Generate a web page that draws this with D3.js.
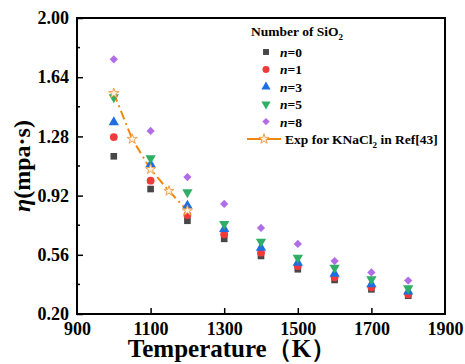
<!DOCTYPE html>
<html>
<head>
<meta charset="utf-8">
<script src="https://cdn.jsdelivr.net/npm/d3@7"></script>
<style>
    body { margin: 0; background: #fff; }
    text { font-family: "Liberation Serif", "Times New Roman", serif; font-weight: bold; }
</style>
</head>
<body>
<div id="chart"></div>
<script>
// data
let temps = [1000, 1100, 1200, 1300, 1400, 1500, 1600, 1700, 1800]
let n0 = [1.159, 0.960, 0.767, 0.657, 0.553, 0.472, 0.407, 0.350, 0.311]
let n1 = [1.276, 1.011, 0.802, 0.685, 0.573, 0.492, 0.423, 0.362, 0.320]
let n3 = [1.366, 1.110, 0.859, 0.717, 0.603, 0.512, 0.445, 0.381, 0.336]
let n5 = [1.518, 1.147, 0.940, 0.748, 0.640, 0.542, 0.482, 0.411, 0.356]
let n8 = [1.749, 1.313, 1.033, 0.869, 0.723, 0.626, 0.522, 0.453, 0.403]
let expTemps = [1000, 1050, 1100, 1150, 1200]
let expVals = [1.542, 1.264, 1.080, 0.948, 0.828]
let xTicks = [900, 1100, 1300, 1500, 1700, 1900]
let yTicks = [0.20, 0.56, 0.92, 1.28, 1.64, 2.00]
let seriesNames = ["n=0", "n=1", "n=3", "n=5", "n=8"]

;(function () {
    let w = 465
    let h = 364
    let left = 77, top = 18, right = 445, bottom = 314

    let svg = d3.select("#chart")
        .append("svg")
        .attr("width", w)
        .attr("height", h)

    let x = d3.scaleLinear().domain([900, 1900]).range([left, right])
    let y = d3.scaleLinear().domain([0.20, 2.00]).range([bottom, top])

    let series = [
        { name: seriesNames[0], vals: n0, color: "#474747", sym: d3.symbolSquare, size: 44, rot: 0 },
        { name: seriesNames[1], vals: n1, color: "#f03a3a", sym: d3.symbolCircle, size: 48, rot: 0 },
        { name: seriesNames[2], vals: n3, color: "#1f6ee0", sym: d3.symbolTriangle, size: 46, rot: 0 },
        { name: seriesNames[3], vals: n5, color: "#2fae66", sym: d3.symbolTriangle, size: 46, rot: 180 },
        { name: seriesNames[4], vals: n8, color: "#b16de6", sym: d3.symbolSquare, size: 34, rot: 45 }
    ]

    // axes, ticks inside
    let xAxis = d3.axisBottom(x).tickValues(xTicks).tickFormat(d3.format("d")).tickSizeInner(-6).tickSizeOuter(0).tickPadding(8)
    let yAxis = d3.axisLeft(y).tickValues(yTicks).tickFormat(d3.format(".2f")).tickSizeInner(-6).tickSizeOuter(0).tickPadding(8)

    let gx = svg.append("g")
        .attr("transform", "translate(0," + bottom + ")")
        .call(xAxis)
    let gy = svg.append("g")
        .attr("transform", "translate(" + left + ",0)")
        .call(yAxis)

    // minor ticks on y
    let minors = d3.range(0.38, 2.0, 0.36)
    gy.selectAll(".minor")
        .data(minors)
        .enter()
        .append("line")
        .attr("x1", 0).attr("x2", 3)
        .attr("y1", d => y(d)).attr("y2", d => y(d))
        .attr("stroke", "#000").attr("stroke-width", 1.5)

    for (let g of [gx, gy]) {
        g.select(".domain").remove()
        g.selectAll(".tick line").attr("stroke", "#000").attr("stroke-width", 1.5)
        g.selectAll(".tick text")
            .attr("fill", "#000")
            .style("font-size", "18px")
            .style("font-family", "Liberation Serif, serif")
            .style("font-weight", "bold")
    }
    gx.selectAll(".tick").filter(d => d == 900 || d == 1900).select("line").remove()

    // frame
    svg.append("rect")
        .attr("x", left).attr("y", top)
        .attr("width", right - left).attr("height", bottom - top)
        .attr("fill", "none").attr("stroke", "#000").attr("stroke-width", 2)

    // experimental line
    let line = d3.line()
        .x(d => x(d[0]))
        .y(d => y(d[1]))
    let expData = d3.zip(expTemps, expVals)
    svg.append("path")
        .datum(expData)
        .attr("d", line)
        .attr("fill", "none")
        .attr("stroke", "#f0880f")
        .attr("stroke-width", 2)
        .attr("stroke-dasharray", "9,4,2,4")

    // scatter series
    for (let s of series) {
        svg.append("g")
            .selectAll("path")
            .data(d3.zip(temps, s.vals))
            .enter()
            .append("path")
            .attr("d", d3.symbol().type(s.sym).size(s.size))
            .attr("transform", d => "translate(" + x(d[0]) + "," + y(d[1]) + ") rotate(" + s.rot + ")")
            .attr("fill", s.color)
    }

    let star = d3.symbol().type(d3.symbolStar).size(32)
    svg.append("g")
        .selectAll("path")
        .data(expData)
        .enter()
        .append("path")
        .attr("d", star)
        .attr("transform", d => "translate(" + x(d[0]) + "," + y(d[1]) + ")")
        .attr("fill", "#fff4e4")
        .attr("stroke", "#f2a04a")
        .attr("stroke-width", 1)

    // legend
    let lg = svg.append("g")
    let title = lg.append("text").attr("x", 251).attr("y", 36).style("font-size", "13.5px")
    title.append("tspan").text("Number of SiO")
    title.append("tspan").text("2").attr("dy", 4).style("font-size", "9px")

    let rowY = i => 52 + i * 17.4
    series.forEach((s, i) => {
        lg.append("path")
            .attr("d", d3.symbol().type(s.sym).size(s.size * 0.8))
            .attr("transform", "translate(266," + rowY(i) + ") rotate(" + s.rot + ")")
            .attr("fill", s.color)
        let t = lg.append("text").attr("x", 280).attr("y", rowY(i) + 5).style("font-size", "13.5px")
        t.append("tspan").text("n").style("font-style", "italic")
        t.append("tspan").text(s.name.slice(1))
    })
    let ly = rowY(5)
    lg.append("line")
        .attr("x1", 247).attr("x2", 281).attr("y1", ly).attr("y2", ly)
        .attr("stroke", "#f0880f").attr("stroke-width", 2)
    lg.append("path")
        .attr("d", star)
        .attr("transform", "translate(264," + ly + ")")
        .attr("fill", "#fff4e4").attr("stroke", "#f2a04a")
    let et = lg.append("text").attr("x", 285).attr("y", ly + 5).style("font-size", "13.5px")
    et.append("tspan").text("Exp for KNaCl")
    et.append("tspan").text("2").attr("dy", 4).style("font-size", "9px")
    et.append("tspan").text(" in Ref[43]").attr("dy", -4)

    // axis titles
    svg.append("text")
        .attr("x", 232)
        .attr("y", 357)
        .style("text-anchor", "middle")
        .style("font-size", "25px")
        .text("Temperature（K）")

    let yt = svg.append("text")
        .attr("transform", "translate(30," + ((top + bottom) / 2) + ") rotate(-90)")
        .style("text-anchor", "middle")
        .style("font-size", "24px")
    yt.append("tspan").text("η").style("font-style", "italic")
    yt.append("tspan").text("(mpa·s)")
})()
</script>
</body>
</html>
